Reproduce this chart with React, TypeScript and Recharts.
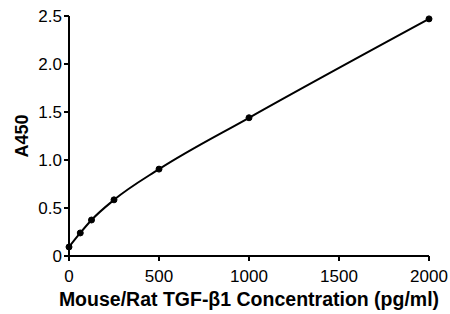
import { LineChart, Line, XAxis, YAxis } from 'recharts';

const concentrations = [0, 62.5, 125, 250, 500, 1000, 2000];
const absorbance = [0.094, 0.24, 0.375, 0.585, 0.905, 1.44, 2.47];
const xTicks = [0, 500, 1000, 1500, 2000];
const yTicks = [0, 0.5, 1.0, 1.5, 2.0, 2.5];

const data = concentrations.map((c, i) => ({ conc: c, a450: absorbance[i] }));

const FONT = '"Liberation Sans", Arial, sans-serif';

export default function App() {
  return (
    <div style={{ position: 'absolute', left: 0, top: 0, width: 450, height: 314, background: '#fff' }}>
      <LineChart
        width={450}
        height={314}
        data={data}
        margin={{ top: 16, right: 21, left: 0, bottom: 0 }}
        style={{ fontFamily: FONT }}
      >
        <XAxis
          dataKey="conc"
          type="number"
          domain={[0, 2000]}
          ticks={xTicks}
          height={58}
          stroke="#000"
          strokeWidth={2}
          tickSize={5}
          tickMargin={9}
          tick={{ fill: '#000', fontSize: 17, fontFamily: FONT }}
          label={{
            value: 'Mouse/Rat TGF-β1 Concentration (pg/ml)',
            position: 'insideBottom',
            offset: 8,
            fill: '#000',
            fontSize: 19.5,
            fontWeight: 'bold',
            fontFamily: FONT
          }}
        />
        <YAxis
          type="number"
          domain={[0, 2.5]}
          ticks={yTicks}
          width={69}
          stroke="#000"
          strokeWidth={2}
          tickSize={5}
          tickMargin={2}
          tickFormatter={(v: number) => (v === 0 ? '0' : v.toFixed(1))}
          tick={{ fill: '#000', fontSize: 17, fontFamily: FONT }}
          label={{
            value: 'A450',
            angle: -90,
            position: 'insideLeft',
            offset: 22,
            fill: '#000',
            fontSize: 18,
            fontWeight: 'bold',
            fontFamily: FONT,
            style: { textAnchor: 'middle' }
          }}
        />
        <Line
          type="monotone"
          dataKey="a450"
          stroke="#000"
          strokeWidth={2}
          dot={{ r: 3, fill: '#000', stroke: '#000', strokeWidth: 1 }}
          isAnimationActive={false}
        />
      </LineChart>
    </div>
  );
}
